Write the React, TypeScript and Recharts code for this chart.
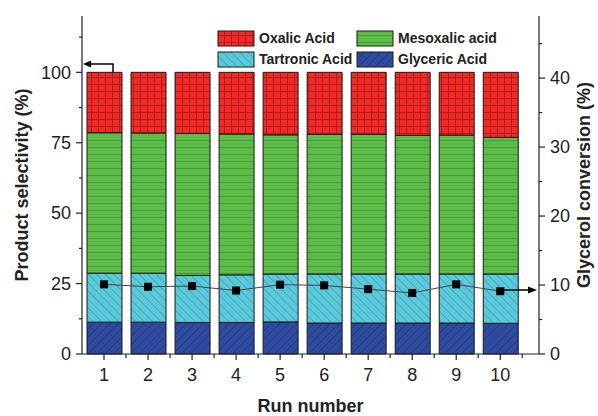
import React from 'react';
import { ComposedChart, Bar, Line, XAxis, YAxis } from 'recharts';

// run numbers (x axis)
const runs = [1, 2, 3, 4, 5, 6, 7, 8, 9, 10];
// selectivity (%) of each product, stacked bottom -> top
const glyceric = [11.3, 11.3, 11.2, 11.2, 11.4, 11.0, 11.0, 11.0, 11.0, 10.9];
const tartronic = [17.4, 17.4, 16.7, 16.9, 17.0, 17.4, 17.4, 17.4, 17.4, 17.5];
const mesoxalic = [49.9, 49.8, 50.4, 50.0, 49.4, 49.6, 49.6, 49.2, 49.3, 48.5];
const oxalic = [21.4, 21.5, 21.7, 21.9, 22.2, 22.0, 22.0, 22.4, 22.3, 23.1];
// glycerol conversion (%)
const conversion = [10.1, 9.75, 9.85, 9.2, 10.05, 9.95, 9.4, 8.85, 10.1, 9.1];

const seriesNames = ['Oxalic Acid', 'Mesoxalic acid', 'Tartronic Acid', 'Glyceric Acid'];
const seriesKeys = ['oxalic', 'mesoxalic', 'tartronic', 'glyceric'];

const leftTicks = [0, 12.5, 25, 37.5, 50, 62.5, 75, 87.5, 100, 112.5];
const rightTicks = [0, 5, 10, 15, 20, 25, 30, 35, 40, 45];
const xTicks = [1, 1.5, 2, 2.5, 3, 3.5, 4, 4.5, 5, 5.5, 6, 6.5, 7, 7.5, 8, 8.5, 9, 9.5, 10, 10.5];

const data = runs.map((r, i) => ({
  run: r,
  glyceric: glyceric[i],
  tartronic: tartronic[i],
  mesoxalic: mesoxalic[i],
  oxalic: oxalic[i],
  conversion: conversion[i],
}));

const FONT = '"Liberation Sans", Arial, sans-serif';
const INK = '#222';

const LeftTick = (props: any) => {
  const { x, y, payload } = props;
  const major = payload.value % 25 === 0;
  return (
    <g>
      <line x1={x} x2={x - (major ? 6 : 3)} y1={y} y2={y} stroke={INK} strokeWidth={1.2} />
      {major && (
        <text x={x - 11} y={y} dy="0.35em" textAnchor="end" fontSize={18} fontFamily={FONT} fill={INK}>
          {payload.value}
        </text>
      )}
    </g>
  );
};

const RightTick = (props: any) => {
  const { x, y, payload } = props;
  const major = payload.value % 10 === 0;
  return (
    <g>
      <line x1={x} x2={x + (major ? 6 : 3)} y1={y} y2={y} stroke={INK} strokeWidth={1.2} />
      {major && (
        <text x={x + 11} y={y} dy="0.35em" textAnchor="start" fontSize={18} fontFamily={FONT} fill={INK}>
          {payload.value}
        </text>
      )}
    </g>
  );
};

const BottomTick = (props: any) => {
  const { x, y, payload } = props;
  const major = Number.isInteger(payload.value);
  return (
    <g>
      <line x1={x} x2={x} y1={y} y2={y + (major ? 6 : 4)} stroke={INK} strokeWidth={1.2} />
      {major && (
        <text x={x} y={y + 14} dy="0.71em" textAnchor="middle" fontSize={18} fontFamily={FONT} fill={INK}>
          {payload.value}
        </text>
      )}
    </g>
  );
};

const SquareDot = (props: any) => {
  const { cx, cy, index } = props;
  if (cx == null || cy == null) return null;
  return <rect key={`dot-${index}`} x={cx - 4} y={cy - 4} width={8} height={8} fill="#000" />;
};

const Patterns = () => (
  <svg width={0} height={0} style={{ position: 'absolute' }}>
    <defs>
      <pattern id="p-oxalic" width={7} height={7} patternUnits="userSpaceOnUse">
        <rect width={7} height={7} fill="#f02a26" />
        <path d="M0 0.5 H7 M0.5 0 V7" stroke="#a8181b" strokeWidth={0.8} />
      </pattern>
      <pattern id="p-mesoxalic" width={7} height={7} patternUnits="userSpaceOnUse">
        <rect width={7} height={7} fill="#5dbb47" />
        <path d="M0 0.5 H7" stroke="#3b953a" strokeWidth={0.8} />
      </pattern>
      <pattern id="p-tartronic" width={6} height={6} patternUnits="userSpaceOnUse" patternTransform="rotate(-45)">
        <rect width={6} height={6} fill="#5bc9da" />
        <path d="M0.5 0 V6" stroke="#3c9fb2" strokeWidth={0.7} />
      </pattern>
      <pattern id="p-glyceric" width={6} height={6} patternUnits="userSpaceOnUse" patternTransform="rotate(45)">
        <rect width={6} height={6} fill="#2f4b9f" />
        <path d="M0.5 0 V6" stroke="#22377a" strokeWidth={0.7} />
      </pattern>
    </defs>
  </svg>
);

const Legend2x2 = () => {
  const cols = [218, 357];
  const rows = [31, 52];
  return (
    <svg width={598} height={416} style={{ position: 'absolute', left: 0, top: 0, pointerEvents: 'none' }}>
      {seriesNames.map((name, i) => {
        const cx = cols[i % 2];
        const cy = rows[Math.floor(i / 2)];
        return (
          <g key={name}>
            <rect x={cx} y={cy} width={36} height={15} fill={`url(#p-${seriesKeys[i]})`} stroke="#1a1a1a" strokeWidth={1} />
            <text x={cx + 41} y={cy + 7.5} dy="0.35em" fontSize={14} fontWeight="bold" fontFamily={FONT} fill={INK}>
              {name}
            </text>
          </g>
        );
      })}
      {/* axis indicator arrows */}
      <polyline points="113,73 113,64 90,64" fill="none" stroke="#000" strokeWidth={1.5} />
      <polygon points="83,64 91,60.5 91,67.5" fill="#000" />
      <line x1={504} y1={290} x2={528} y2={290} stroke="#000" strokeWidth={1.5} />
      <polygon points="537,290 528,286.5 528,293.5" fill="#000" />
    </svg>
  );
};

export default function App() {
  return (
    <div style={{ position: 'absolute', left: 0, top: 0, width: 598, height: 416, background: '#fff' }}>
      <Patterns />
      <ComposedChart width={598} height={416} data={data} margin={{ top: 16, right: 0, bottom: 0, left: 0 }}>
        <XAxis
          dataKey="run"
          type="number"
          domain={[0.5, 10.88]}
          allowDataOverflow
          ticks={xTicks}
          interval={0}
          height={62}
          tickSize={0}
          tickMargin={0}
          tickLine={false}
          axisLine={{ stroke: INK, strokeWidth: 1.2 }}
          tick={<BottomTick />}
          label={{ value: 'Run number', position: 'insideBottom', offset: 4, style: { fontSize: 18, fontWeight: 'bold', fontFamily: FONT, fill: INK } }}
        />
        <YAxis
          yAxisId="left"
          domain={[0, 120]}
          ticks={leftTicks}
          interval={0}
          width={82}
          tickSize={0}
          tickMargin={0}
          tickLine={false}
          axisLine={{ stroke: INK, strokeWidth: 1.2 }}
          tick={<LeftTick />}
          label={{ value: 'Product selectivity (%)', angle: -90, position: 'insideLeft', offset: 22, style: { textAnchor: 'middle', fontSize: 18, fontWeight: 'bold', fontFamily: FONT, fill: INK } }}
        />
        <YAxis
          yAxisId="right"
          orientation="right"
          domain={[0, 49]}
          ticks={rightTicks}
          interval={0}
          width={59}
          tickSize={0}
          tickMargin={0}
          tickLine={false}
          axisLine={{ stroke: INK, strokeWidth: 1.2 }}
          tick={<RightTick />}
          label={{ value: 'Glycerol conversion (%)', angle: -90, position: 'insideRight', offset: 14, style: { textAnchor: 'middle', fontSize: 18, fontWeight: 'bold', fontFamily: FONT, fill: INK } }}
        />
        <Bar yAxisId="left" dataKey="glyceric" name="Glyceric Acid" stackId="s" barSize={35} fill="url(#p-glyceric)" stroke="#1a1a1a" strokeWidth={1} isAnimationActive={false} />
        <Bar yAxisId="left" dataKey="tartronic" name="Tartronic Acid" stackId="s" barSize={35} fill="url(#p-tartronic)" stroke="#1a1a1a" strokeWidth={1} isAnimationActive={false} />
        <Bar yAxisId="left" dataKey="mesoxalic" name="Mesoxalic acid" stackId="s" barSize={35} fill="url(#p-mesoxalic)" stroke="#1a1a1a" strokeWidth={1} isAnimationActive={false} />
        <Bar yAxisId="left" dataKey="oxalic" name="Oxalic Acid" stackId="s" barSize={35} fill="url(#p-oxalic)" stroke="#1a1a1a" strokeWidth={1} isAnimationActive={false} />
        <Line yAxisId="right" dataKey="conversion" stroke="#444" strokeWidth={1} dot={<SquareDot />} activeDot={false} isAnimationActive={false} />
      </ComposedChart>
      <Legend2x2 />
    </div>
  );
}
